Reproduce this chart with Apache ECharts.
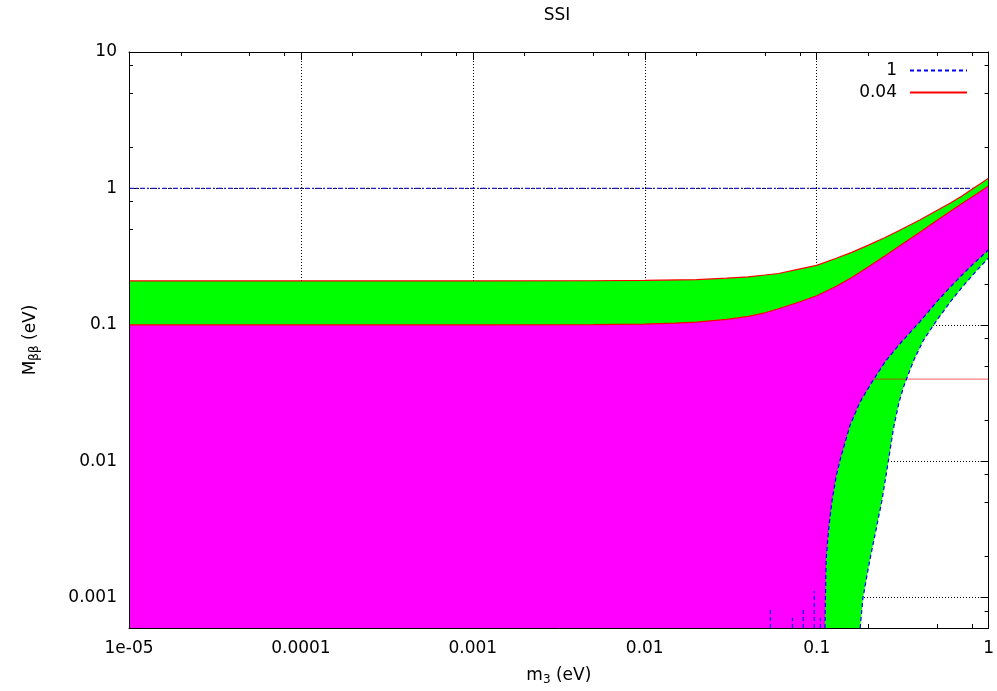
<!DOCTYPE html>
<html><head><meta charset="utf-8">
<script src="https://cdn.jsdelivr.net/npm/echarts@6/dist/echarts.min.js"></script>
<style>html,body{margin:0;padding:0;background:#fff}#c{width:997px;height:691px}</style>
</head><body><div id="c"></div>
<script>
// ---------- data ----------
const titleText = 'SSI';
const xTickValues = [1e-5, 1e-4, 1e-3, 1e-2, 1e-1, 1];
const xTickLabels = ['1e-05', '0.0001', '0.001', '0.01', '0.1', '1'];
const yTickValues = [1e-3, 1e-2, 1e-1, 1, 10];
const yTickLabels = ['0.001', '0.01', '0.1', '1', '10'];
const xRange = [1e-5, 1];
const yRange = [6e-4, 10];

// upper band, top edge (red)
const m3BandTop = [1e-5, 1e-3, 0.005, 0.01, 0.02, 0.03, 0.04, 0.05, 0.06, 0.08, 0.1, 0.13, 0.16, 0.2, 0.25, 0.3, 0.4, 0.5, 0.6, 0.7, 0.8, 0.9, 1.0];
const mbbBandTop = [0.210, 0.210, 0.2105, 0.212, 0.2145, 0.220, 0.225, 0.232, 0.238, 0.257, 0.273, 0.308, 0.340, 0.384, 0.437, 0.490, 0.589, 0.688, 0.782, 0.880, 0.985, 1.088, 1.19];
// upper band, bottom edge (red)
const m3BandBot = [1e-5, 1e-3, 0.005, 0.01, 0.015, 0.02, 0.03, 0.04, 0.05, 0.06, 0.08, 0.1, 0.13, 0.16, 0.2, 0.25, 0.3, 0.4, 0.5, 0.6, 0.7, 0.8, 0.9, 1.0];
const mbbBandBot = [0.1, 0.1, 0.1003, 0.1014, 0.1029, 0.1048, 0.1098, 0.1153, 0.1226, 0.1312, 0.1478, 0.1636, 0.1918, 0.2228, 0.2668, 0.3209, 0.3753, 0.4794, 0.5817, 0.6817, 0.7745, 0.8655, 0.9541, 1.04];
// lower region, left edge (blue dashed)
const m3LowLeft = [0.1117, 0.1125, 0.1135, 0.118, 0.123, 0.130, 0.137, 0.1566, 0.179, 0.210, 0.250, 0.301, 0.383, 0.40, 0.50, 0.60, 0.70, 0.80, 0.90, 1.0];
const mbbLowLeft = [6e-4, 0.001, 0.0019, 0.0034, 0.0052, 0.0078, 0.0103, 0.0185, 0.0273, 0.0382, 0.0536, 0.0714, 0.100, 0.106, 0.148, 0.190, 0.232, 0.274, 0.314, 0.355];
// lower region, right edge (blue dashed)
const m3LowRight = [0.179, 0.186, 0.195, 0.204, 0.222, 0.240, 0.262, 0.280, 0.300, 0.320, 0.345, 0.368, 0.42, 0.50, 0.60, 0.70, 0.85, 1.0];
const mbbLowRight = [6e-4, 0.001, 0.0014, 0.0019, 0.0032, 0.0052, 0.0103, 0.0175, 0.0265, 0.0350, 0.0450, 0.0554, 0.078, 0.108, 0.148, 0.188, 0.249, 0.31];
// small blue spikes near the bottom
const m3Spikes = [0.0538, 0.0723, 0.0836, 0.0969, 0.105];
const mbbSpikes = [8.2e-4, 7.1e-4, 8.2e-4, 1.12e-3, 7.1e-4];
// horizontal reference lines
const level1 = 1;
const level004 = 0.04;
const legendNames = ['1', '0.04'];

// ---------- helpers ----------
const zip = (xs, ys) => xs.map((x, i) => [x, ys[i]]);
const minorMult = [2, 5, 8];
function minorTicks(lo, hi) {
  const out = [];
  for (let d = Math.floor(Math.log10(lo)); d < Math.ceil(Math.log10(hi)); d++) {
    minorMult.forEach(k => { const v = k * Math.pow(10, d); if (v > lo && v < hi) out.push(v); });
  }
  return out;
}
const xMinor = minorTicks(xRange[0], xRange[1]);
const yMinor = minorTicks(yRange[0], yRange[1]);
const lbl = (vals, labs) => v => {
  const i = vals.findIndex(t => Math.abs(Math.log10(t) - Math.log10(v)) < 1e-6);
  return i < 0 ? '' : labs[i];
};

const FONT = 'DejaVu Sans';
const top1 = zip(m3BandTop, mbbBandTop);
const bot1 = zip(m3BandBot, mbbBandBot);
const lowL = zip(m3LowLeft, mbbLowLeft);
const lowR = zip(m3LowRight, mbbLowRight);

// polygon outlines built from the arrays
const greenPoly = top1.concat(lowR.slice().reverse()).concat([[xRange[0], yRange[0]]]);
const magentaPoly = bot1.concat(lowL.slice().reverse()).concat([[xRange[0], yRange[0]]]);

const spikeData = [];
m3Spikes.forEach((m, i) => { spikeData.push([m, yRange[0]], [m, mbbSpikes[i]], [m, '-']); });

function polySeries(points, color, z) {
  return {
    type: 'custom', z: z, silent: true, clip: true, xAxisIndex: 0, yAxisIndex: 0,
    data: [[xRange[0], 1]],
    renderItem: (params, api) => {
      const pts = points.map(p => api.coord(p));
      const cs = params.coordSys;
      return {
        type: 'polygon', shape: { points: pts }, style: { fill: color, stroke: null },
        clipPath: { type: 'rect', shape: { x: cs.x, y: cs.y, width: cs.width, height: cs.height } }
      };
    }
  };
}
function lineSeries(name, data, color, type, z, opacity) {
  return {
    type: 'line', name: name, data: data, z: z, symbol: 'none', showSymbol: false, silent: true,
    clip: true, connectNulls: false, xAxisIndex: 0, yAxisIndex: 0,
    lineStyle: { color: color, width: 1.2, type: type, opacity: opacity == null ? 1 : opacity },
    itemStyle: { color: color }
  };
}

function axisSet(dim) {
  const isX = dim === 'x';
  const rng = isX ? xRange : yRange;
  const majors = isX ? xTickValues : yTickValues;
  const minors = isX ? xMinor : yMinor;
  const pos = isX ? ['bottom', 'top'] : ['left', 'right'];
  const base = { type: 'log', logBase: 10, min: rng[0], max: rng[1], splitLine: { show: false },
    axisLabel: { show: false }, axisTick: { show: false }, axisLine: { show: false }, silent: true };
  const axes = [];
  axes.push(Object.assign({}, base, {
    position: pos[0], z: 10,
    axisLine: { show: true, lineStyle: { color: '#000', width: 1 } },
    axisLabel: { show: true, customValues: majors, formatter: lbl(majors, isX ? xTickLabels : yTickLabels),
      color: '#000', fontFamily: FONT, fontSize: 17, margin: 12 },
    name: isX ? '{a|m}{s|3}{a| (eV)}' : '{a|M}{s|ββ}{a| (eV)}',
    nameLocation: 'middle', nameGap: isX ? 37 : 88,
    nameTextStyle: { color: '#000', fontFamily: FONT, rich: {
      a: { fontSize: 17, fontFamily: FONT, color: '#000' },
      s: { fontSize: 12, fontFamily: FONT, color: '#000', padding: [9, 0, 0, 0] } } }
  }));
  axes.push(Object.assign({}, base, { position: pos[1], z: 10,
    axisLine: { show: true, lineStyle: { color: '#000', width: 1 } } }));
  [pos[0], pos[1]].forEach((p, k) => {
    axes.push(Object.assign({}, base, { position: p, z: 0,
      axisTick: { show: true, inside: true, length: 8, customValues: majors, lineStyle: { color: '#000' } },
      splitLine: { show: k === 0, lineStyle: { color: '#000', type: [1, 2], width: 1 } } }));
    axes.push(Object.assign({}, base, { position: p, z: 0,
      axisTick: { show: true, inside: true, length: 4, customValues: minors, lineStyle: { color: '#000' } } }));
  });
  return axes;
}

const chart = echarts.init(document.getElementById('c'), null, { renderer: 'canvas' });
chart.setOption({
  animation: false,
  backgroundColor: '#fff',
  title: { text: titleText, left: 552, top: 2, textAlign: 'center',
    textStyle: { fontFamily: FONT, fontSize: 17, fontWeight: 'normal', color: '#000' } },
  grid: { left: 129, right: 5, top: 52, bottom: 63, containLabel: false },
  legend: {
    data: legendNames, orient: 'vertical', right: 29, top: 62, align: 'right', padding: 0,
    itemWidth: 57, itemHeight: 14, itemGap: 5, selectedMode: false,
    itemStyle: { opacity: 0 },
    textStyle: { fontFamily: FONT, fontSize: 17, lineHeight: 16, color: '#000', padding: [0, 8, 0, 0] }
  },
  xAxis: axisSet('x'),
  yAxis: axisSet('y'),
  series: [
    lineSeries('1', lowL, '#0000ff', [4, 3], 5),
    lineSeries('0.04', top1, '#ff0000', 'solid', 5),
    lineSeries('0.04', bot1, '#ff0000', 'solid', 5),
    lineSeries('1', lowR, '#0000ff', [4, 3], 5),
    lineSeries('1', spikeData, '#0000ff', [4, 3], 5),
    lineSeries('1', [[xRange[0], level1], [xRange[1], level1]], '#2020c0', [5, 2, 2, 2], 1),
    lineSeries('0.04', [[xRange[0], level004], [xRange[1], level004]], '#ff0000', 'solid', 3, 0.5),
    polySeries(greenPoly, '#00ff00', 2),
    polySeries(magentaPoly, '#ff00ff', 4)
  ]
});
</script>
</body></html>
